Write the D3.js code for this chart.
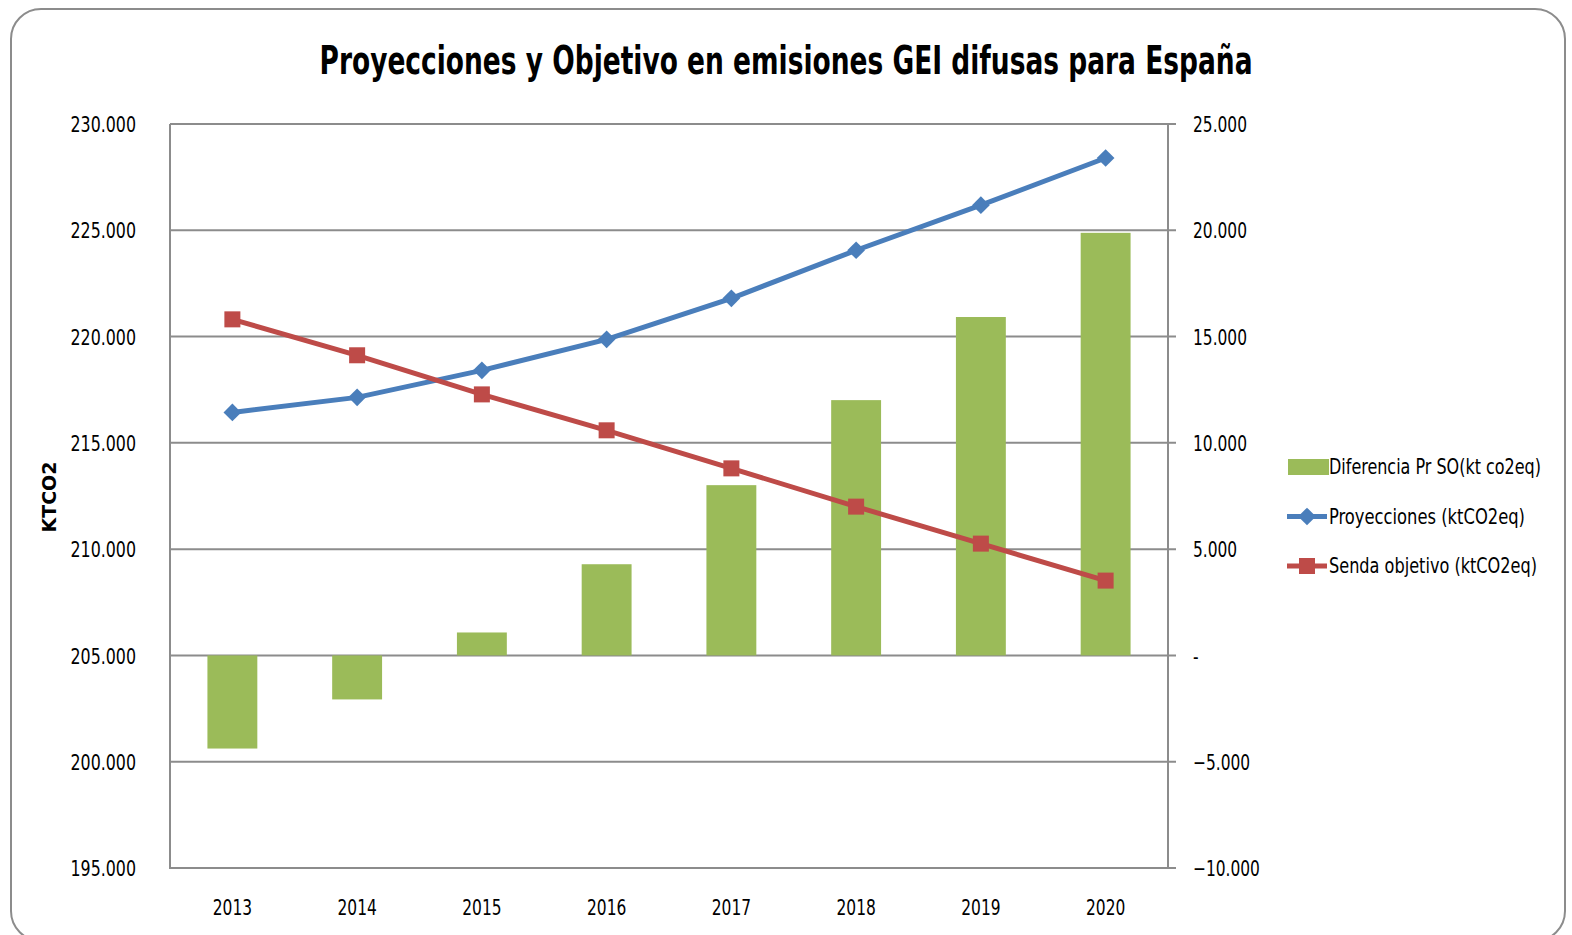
<!DOCTYPE html>
<html>
<head>
<meta charset="utf-8">
<script src="https://cdn.jsdelivr.net/npm/d3@7"></script>
<style>
  body { margin: 0; background: #fff; }
  text { font-family: "DejaVu Sans Condensed", "DejaVu Sans", sans-serif; fill: #000; }
</style>
</head>
<body>
<script>
// chart data
var years = ["2013", "2014", "2015", "2016", "2017", "2018", "2019", "2020"];
var diferencia = [-4380, -2070, 1080, 4290, 8010, 12010, 15920, 19880];
var proyecciones = [216430, 217140, 218410, 219870, 221800, 224060, 226180, 228400];
var senda = [220810, 219120, 217280, 215590, 213800, 212000, 210260, 208520];
var leftTicks = [195000, 200000, 205000, 210000, 215000, 220000, 225000, 230000];
var rightTicks = [-10000, -5000, 0, 5000, 10000, 15000, 20000, 25000];
var legendNames = ["Diferencia Pr SO(kt co2eq)", "Proyecciones (ktCO2eq)", "Senda objetivo  (ktCO2eq)"];

var width = 1572, height = 935;
var plot = { left: 170, right: 1168, top: 124, bottom: 868 };

var es = d3.formatLocale({ decimal: ",", thousands: ".", grouping: [3], currency: ["", ""] });
var fmt = es.format(",.0f");

// the reference uses a narrow font; squeeze the condensed one to fit
function squeeze(sel, f) {
  sel.each(function() {
    var w = this.getComputedTextLength();
    d3.select(this).attr("textLength", w * f).attr("lengthAdjust", "spacingAndGlyphs");
  });
}

var svg = d3.select("body").append("svg")
            .attr("width", width)
            .attr("height", height);

// outer rounded frame (bottom runs just past the picture)
svg.append("rect")
   .attr("x", 11).attr("y", 9)
   .attr("width", 1554).attr("height", 932)
   .attr("rx", 30).attr("ry", 30)
   .attr("fill", "#fff")
   .attr("stroke", "#8c8c8c")
   .attr("stroke-width", 2);

var x = d3.scaleBand()
          .domain(years)
          .range([plot.left, plot.right])
          .paddingInner(0.6)
          .paddingOuter(0.3);
var xc = function(d) { return x(d) + x.bandwidth() / 2; };

var yL = d3.scaleLinear().domain([195000, 230000]).range([plot.bottom, plot.top]);
var yR = d3.scaleLinear().domain([-10000, 25000]).range([plot.bottom, plot.top]);

// gridlines
svg.append("g")
   .selectAll("line")
   .data(leftTicks)
   .enter().append("line")
   .attr("x1", plot.left).attr("x2", plot.right + 8)
   .attr("y1", function(d) { return yL(d); })
   .attr("y2", function(d) { return yL(d); })
   .attr("stroke", "#8c8c8c")
   .attr("stroke-width", 2);

// left & right axis lines
svg.append("line")
   .attr("x1", plot.left).attr("x2", plot.left)
   .attr("y1", plot.top).attr("y2", plot.bottom + 1)
   .attr("stroke", "#8c8c8c").attr("stroke-width", 2);
svg.append("line")
   .attr("x1", plot.right).attr("x2", plot.right)
   .attr("y1", plot.top).attr("y2", plot.bottom + 1)
   .attr("stroke", "#8c8c8c").attr("stroke-width", 2);

// left axis labels
var axL = svg.append("g")
   .attr("transform", "translate(" + (plot.left + 8) + ",0)")
   .call(d3.axisLeft(yL).tickValues(leftTicks).tickFormat(fmt).tickSize(0).tickPadding(42));
axL.select(".domain").remove();
axL.selectAll("text").style("font-size", "22px").attr("dy", "0.35em").call(squeeze, 0.8);

// right axis labels
var axR = svg.append("g")
   .attr("transform", "translate(" + plot.right + ",0)")
   .call(d3.axisRight(yR).tickValues(rightTicks)
          .tickFormat(function(d) { return d === 0 ? "-" : fmt(d); })
          .tickSize(0).tickPadding(25));
axR.select(".domain").remove();
axR.selectAll("text").style("font-size", "22px").attr("dy", "0.35em").call(squeeze, 0.78);

// x axis labels
var axX = svg.append("g")
   .attr("transform", "translate(0," + plot.bottom + ")")
   .call(d3.axisBottom(x).tickSize(0).tickPadding(31));
axX.select(".domain").remove();
axX.selectAll("text").style("font-size", "22px").call(squeeze, 0.78);

// bars
svg.append("g")
   .selectAll("rect")
   .data(diferencia)
   .enter().append("rect")
   .attr("x", function(d, i) { return x(years[i]); })
   .attr("width", x.bandwidth())
   .attr("y", function(d) { return yR(Math.max(0, d)); })
   .attr("height", function(d) { return Math.abs(yR(d) - yR(0)); })
   .attr("fill", "#9bbb59");

// lines
var line = function(sc) {
  return d3.line().x(function(d, i) { return xc(years[i]); }).y(function(d) { return sc(d); });
};
svg.append("path")
   .datum(proyecciones)
   .attr("d", line(yL))
   .attr("fill", "none").attr("stroke", "#4a7ebb").attr("stroke-width", 5);
svg.append("path")
   .datum(senda)
   .attr("d", line(yL))
   .attr("fill", "none").attr("stroke", "#be4b48").attr("stroke-width", 5);

var diamond = d3.symbol().type(d3.symbolDiamond2).size(200);
svg.append("g")
   .selectAll("path")
   .data(proyecciones)
   .enter().append("path")
   .attr("d", diamond)
   .attr("transform", function(d, i) { return "translate(" + xc(years[i]) + "," + yL(d) + ")"; })
   .attr("fill", "#4a7ebb");

svg.append("g")
   .selectAll("rect")
   .data(senda)
   .enter().append("rect")
   .attr("x", function(d, i) { return xc(years[i]) - 8; })
   .attr("y", function(d) { return yL(d) - 8; })
   .attr("width", 16).attr("height", 16)
   .attr("fill", "#be4b48");

// title
svg.append("text")
   .attr("x", 786).attr("y", 74)
   .attr("text-anchor", "middle")
   .attr("textLength", 933)
   .attr("lengthAdjust", "spacingAndGlyphs")
   .style("font-size", "39px")
   .style("font-weight", "bold")
   .text("Proyecciones y Objetivo en emisiones GEI difusas para España");

// y axis title
svg.append("text")
   .attr("transform", "translate(56,497) rotate(-90)")
   .attr("text-anchor", "middle")
   .attr("textLength", 71)
   .attr("lengthAdjust", "spacingAndGlyphs")
   .style("font-family", "'DejaVu Sans', sans-serif")
   .style("font-size", "20px")
   .style("font-weight", "bold")
   .text("KTCO2");

// legend
var legendLen = [212, 196, 208];
var legend = svg.selectAll("g.legend")
   .data(legendNames)
   .enter().append("g")
   .attr("class", "legend")
   .attr("transform", function(d, i) { return "translate(1287," + (467 + i * 49.5) + ")"; });

legend.append("text")
   .attr("x", 42).attr("dy", "0.35em")
   .attr("textLength", function(d, i) { return legendLen[i]; })
   .attr("lengthAdjust", "spacingAndGlyphs")
   .style("font-size", "21px")
   .text(function(d) { return d; });

legend.filter(function(d, i) { return i === 0; })
   .append("rect")
   .attr("x", 1).attr("y", -8).attr("width", 41).attr("height", 16)
   .attr("fill", "#9bbb59");

legend.filter(function(d, i) { return i > 0; })
   .append("line")
   .attr("x1", 0).attr("x2", 40)
   .attr("stroke", function(d, i) { return i === 0 ? "#4a7ebb" : "#be4b48"; })
   .attr("stroke-width", 5);

legend.filter(function(d, i) { return i === 1; })
   .append("path")
   .attr("d", diamond)
   .attr("transform", "translate(20,0)")
   .attr("fill", "#4a7ebb");

legend.filter(function(d, i) { return i === 2; })
   .append("rect")
   .attr("x", 12).attr("y", -8).attr("width", 16).attr("height", 16)
   .attr("fill", "#be4b48");
</script>
</body>
</html>
